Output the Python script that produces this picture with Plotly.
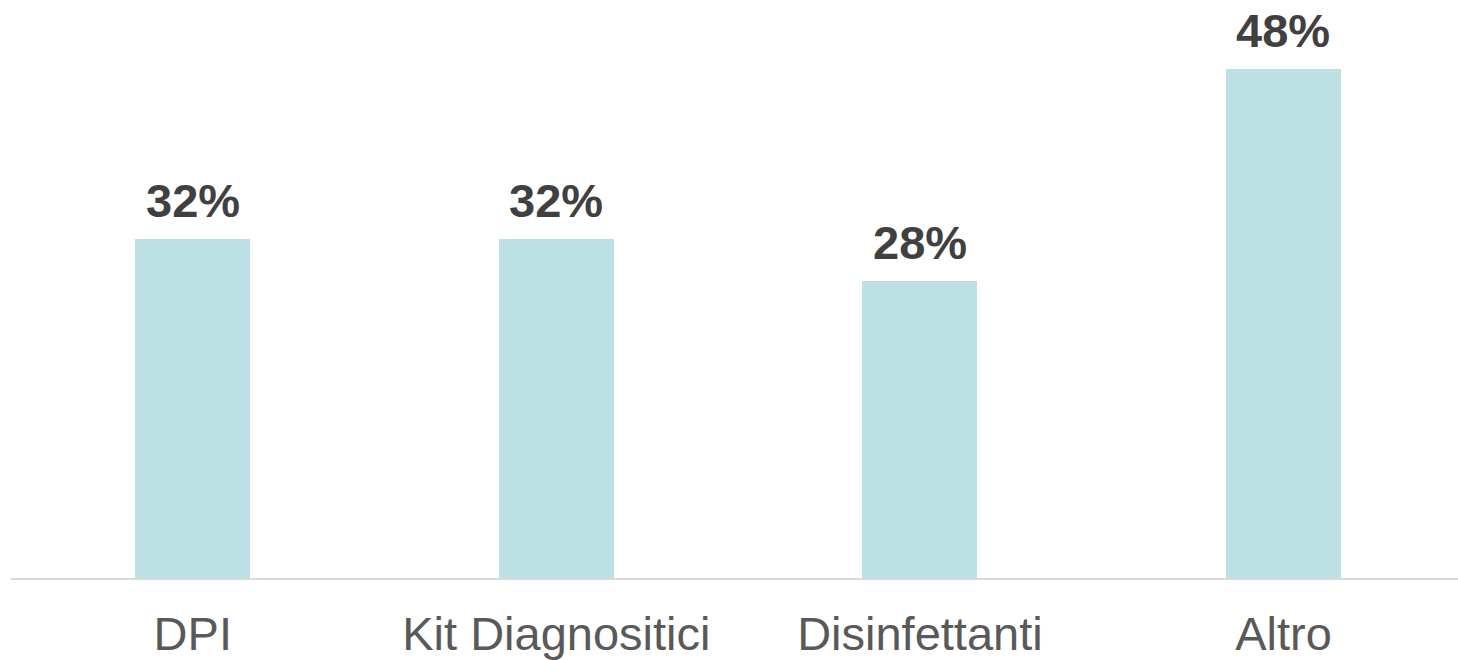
import plotly.graph_objects as go

categories = ["DPI", "Kit Diagnositici", "Disinfettanti", "Altro"]
values = [32, 32, 28, 48]
labels = ["32%", "32%", "28%", "48%"]

FONT = "Arial, Liberation Sans, sans-serif"

fig = go.Figure()
fig.add_trace(go.Bar(
    x=categories, y=values, width=0.316,
    marker=dict(color="#bce0e3", line=dict(width=0)),
    hoverinfo="skip",
))
for c, v, t in zip(categories, values, labels):
    fig.add_annotation(x=c, y=v, text="<b>%s</b>" % t, showarrow=False,
                       yanchor="bottom", yshift=10,
                       font=dict(family=FONT, size=47, color="#404040"))

fig.update_layout(
    width=1458, height=660,
    margin=dict(l=11, r=0, t=0, b=82),
    paper_bgcolor="white", plot_bgcolor="white",
    showlegend=False,
    bargap=0,
    xaxis=dict(range=[-0.5, 3.48], showgrid=False, showline=True,
               linecolor="#d9d9d9", linewidth=2, ticks="outside", ticklen=14,
               tickcolor="rgba(0,0,0,0)",
               tickfont=dict(family=FONT, size=47, color="#595959"), zeroline=False),
    yaxis=dict(range=[0, 54.5], visible=False, showgrid=False, zeroline=False),
)
fig.write_html("out.html")
